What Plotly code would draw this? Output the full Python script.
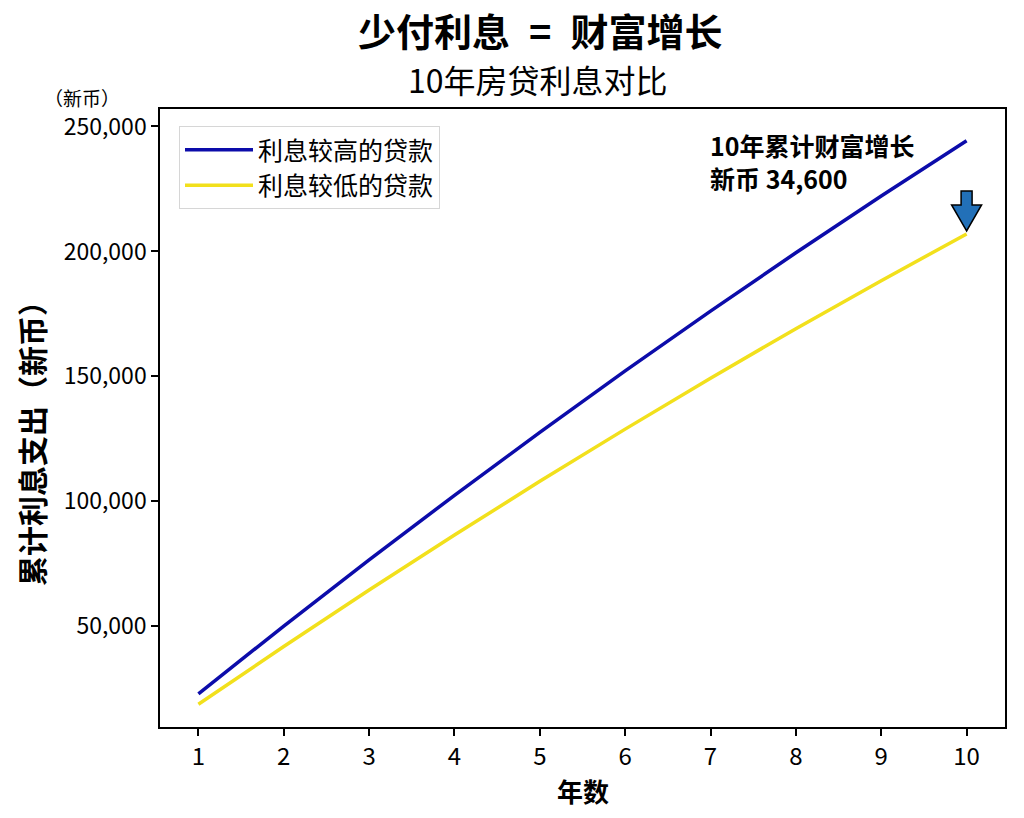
import plotly.graph_objects as go

years = [1, 2, 3, 4, 5, 6, 7, 8, 9, 10]
high_rate = [23000, 50100, 76600, 102400, 127600, 152200, 176100, 199500, 222200, 244300]
low_rate = [18800, 41900, 64500, 86500, 108000, 128900, 149300, 169100, 188300, 207000]
series_names = ["利息较高的贷款", "利息较低的贷款"]
title_text = "少付利息\u2002=\u2002财富增长"
subtitle_text = "10年房贷利息对比"
note_lines = ["10年累计财富增长", "新币 34,600"]
x_title = "年数"
y_title = "累计利息支出（新币）"
unit_text = "（新币）"
y_ticks = [50000, 100000, 150000, 200000, 250000]

FONT = "Noto Sans CJK SC"
W, H = 1024, 818
L, R, T, B = 160, 19, 109, 91
pw, ph = W - L - R, H - T - B

def px(xs):
    return (xs - L) / pw

def py(ys):
    return (H - B - ys) / ph

fig = go.Figure()
fig.add_trace(go.Scatter(x=years, y=high_rate, mode="lines", name=series_names[0],
                         line=dict(color="#0c0caa", width=3.5)))
fig.add_trace(go.Scatter(x=years, y=low_rate, mode="lines", name=series_names[1],
                         line=dict(color="#f2e01c", width=3.5)))

# down arrow pointing at end of low-rate line (pixel-sized, anchored on data point)
arrow_path = "M 0,3 L -15,29 L -5.5,29 L -5.5,43 L 5.5,43 L 5.5,29 L 15,29 Z"
fig.add_shape(type="path", xref="x", yref="y", xsizemode="pixel", ysizemode="pixel",
              xanchor=years[-1], yanchor=low_rate[-1], path=arrow_path,
              fillcolor="#2270b8", line=dict(color="black", width=1.5), layer="above")

annotations = [
    dict(text="<b>" + title_text + "</b>", x=px(540), y=py(30), xref="paper", yref="paper",
         showarrow=False, font=dict(family=FONT, size=38, color="black"),
         xanchor="center", yanchor="middle"),
    dict(text=subtitle_text, x=px(538), y=py(79), xref="paper", yref="paper",
         showarrow=False, font=dict(family=FONT, size=32, color="black"),
         xanchor="center", yanchor="middle"),
    dict(text=unit_text, x=px(122), y=py(97), xref="paper", yref="paper",
         showarrow=False, font=dict(family=FONT, size=19, color="black"),
         xanchor="right", yanchor="middle"),
    dict(text="<b>" + y_title + "</b>", x=px(31), y=py(436), xref="paper", yref="paper",
         showarrow=False, textangle=-90, font=dict(family=FONT, size=30, color="black"),
         xanchor="center", yanchor="middle"),
    dict(text="<b>" + x_title + "</b>", x=0.5, y=py(790), xref="paper", yref="paper",
         showarrow=False, font=dict(family=FONT, size=26, color="black"),
         xanchor="center", yanchor="middle"),
    dict(text="<b>" + "<br>".join(note_lines) + "</b>", x=px(708), y=py(125),
         xref="paper", yref="paper", showarrow=False, align="left",
         font=dict(family=FONT, size=25, color="black"),
         xanchor="left", yanchor="top"),
]

fig.update_layout(
    width=W, height=H,
    margin=dict(l=L, r=R, t=T, b=B, pad=0),
    paper_bgcolor="white", plot_bgcolor="white",
    font=dict(family=FONT, size=24, color="black"),
    annotations=annotations,
    showlegend=True,
    legend=dict(x=px(179), y=py(126), xanchor="left", yanchor="top",
                bgcolor="white", bordercolor="#d6d6d6", borderwidth=1,
                font=dict(family=FONT, size=25, color="black"),
                tracegroupgap=0, itemwidth=68),
)
fig.update_xaxes(range=[0.55, 10.45], tickvals=years, showgrid=False, zeroline=False,
                 showline=True, linecolor="black", linewidth=1.5, mirror=True,
                 ticks="outside", ticklen=7, tickwidth=1.5, tickcolor="black",
                 tickfont=dict(family=FONT, size=24, color="black"))
fig.update_yaxes(range=[9700, 257000], tickvals=y_ticks, tickformat=",d", showgrid=False,
                 zeroline=False, showline=True, linecolor="black", linewidth=1.5, mirror=True,
                 ticks="outside", ticklen=7, tickwidth=1.5, tickcolor="black",
                 tickfont=dict(family=FONT, size=23, color="black"))

fig.write_html("out.html", config={"displayModeBar": False},
               post_script="document.body.style.margin='0';document.body.style.overflow='hidden';")
